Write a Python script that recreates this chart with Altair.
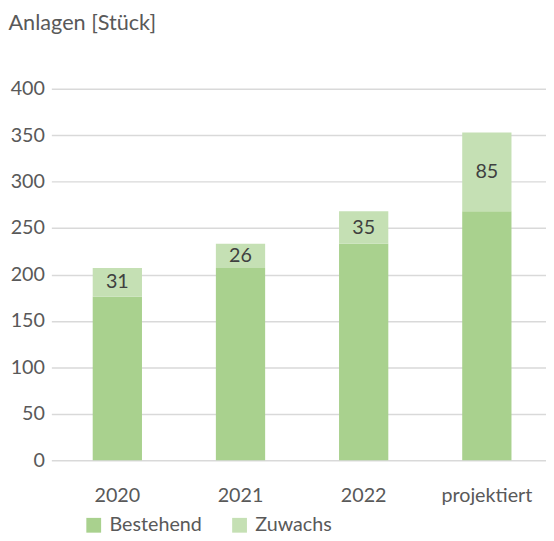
import altair as alt
import pandas as pd

categories = ["2020", "2021", "2022", "projektiert"]
bestehend = [176, 207, 233, 268]
zuwachs = [31, 26, 35, 85]
series_names = ["Bestehend", "Zuwachs"]
y_ticks = [0, 50, 100, 150, 200, 250, 300, 350, 400]
y_title = "Anlagen [Stück]"

rows = []
for c, b, z in zip(categories, bestehend, zuwachs):
    rows.append({"Jahr": c, "Serie": "Bestehend", "Wert": b, "ord": 0})
    rows.append({"Jahr": c, "Serie": "Zuwachs", "Wert": z, "ord": 1})
long_df = pd.DataFrame(rows)
wide_df = pd.DataFrame({"Jahr": categories, "Bestehend": bestehend, "Zuwachs": zuwachs})

FONT = "Lato"
GRAY = "#595959"
FS = 20

x_enc = alt.X(
    "Jahr:N",
    sort=categories,
    title=None,
    scale=alt.Scale(paddingInner=0.6, paddingOuter=0.308, align=0.545),
    axis=alt.Axis(labelAngle=0, labelFontSize=FS, labelColor=GRAY, labelFont=FONT,
                  domain=False, ticks=False, labelPadding=26, grid=False),
)

bars = alt.Chart(long_df).mark_bar().encode(
    x=x_enc,
    y=alt.Y("Wert:Q", stack="zero", title=y_title,
            scale=alt.Scale(domain=[0, 400], nice=False),
            axis=alt.Axis(values=y_ticks, labelFontSize=FS, labelColor=GRAY, labelFont=FONT,
                          domain=False, ticks=False, labelPadding=7,
                          gridColor="#D9D9D9", gridWidth=1.5,
                          titleAngle=0, titleX=-44, titleY=-77, titleAlign="left",
                          titleBaseline="top", titleFontSize=22, titleFont=FONT,
                          titleFontWeight="normal", titleColor=GRAY)),
    color=alt.Color("Serie:N", sort=series_names,
                    scale=alt.Scale(domain=series_names, range=["#A9D18E", "#C5E0B4"]),
                    legend=alt.Legend(title=None, orient="none", legendX=33, legendY=433,
                                      direction="horizontal",
                                      symbolType="square", symbolSize=225, symbolStrokeWidth=0,
                                      labelFontSize=FS, labelColor=GRAY, labelFont=FONT,
                                      labelOffset=6, columnPadding=28, padding=0)),
    order=alt.Order("ord:Q"),
)

labels = alt.Chart(wide_df).transform_calculate(
    mid="datum.Bestehend + datum.Zuwachs / 2"
).mark_text(fontSize=FS, color="#404040", font=FONT, baseline="middle").encode(
    x=alt.X("Jahr:N", sort=categories),
    y=alt.Y("mid:Q"),
    text=alt.Text("Zuwachs:Q"),
)

chart = alt.layer(bars, labels).properties(
    width=502,
    height=377,
    autosize=alt.AutoSizeParams(type="none"),
    padding={"left": 44, "top": 78, "right": 0, "bottom": 78},
).configure_view(stroke=None)

chart.save("out.html", embed_options={"renderer": "svg", "actions": False})
